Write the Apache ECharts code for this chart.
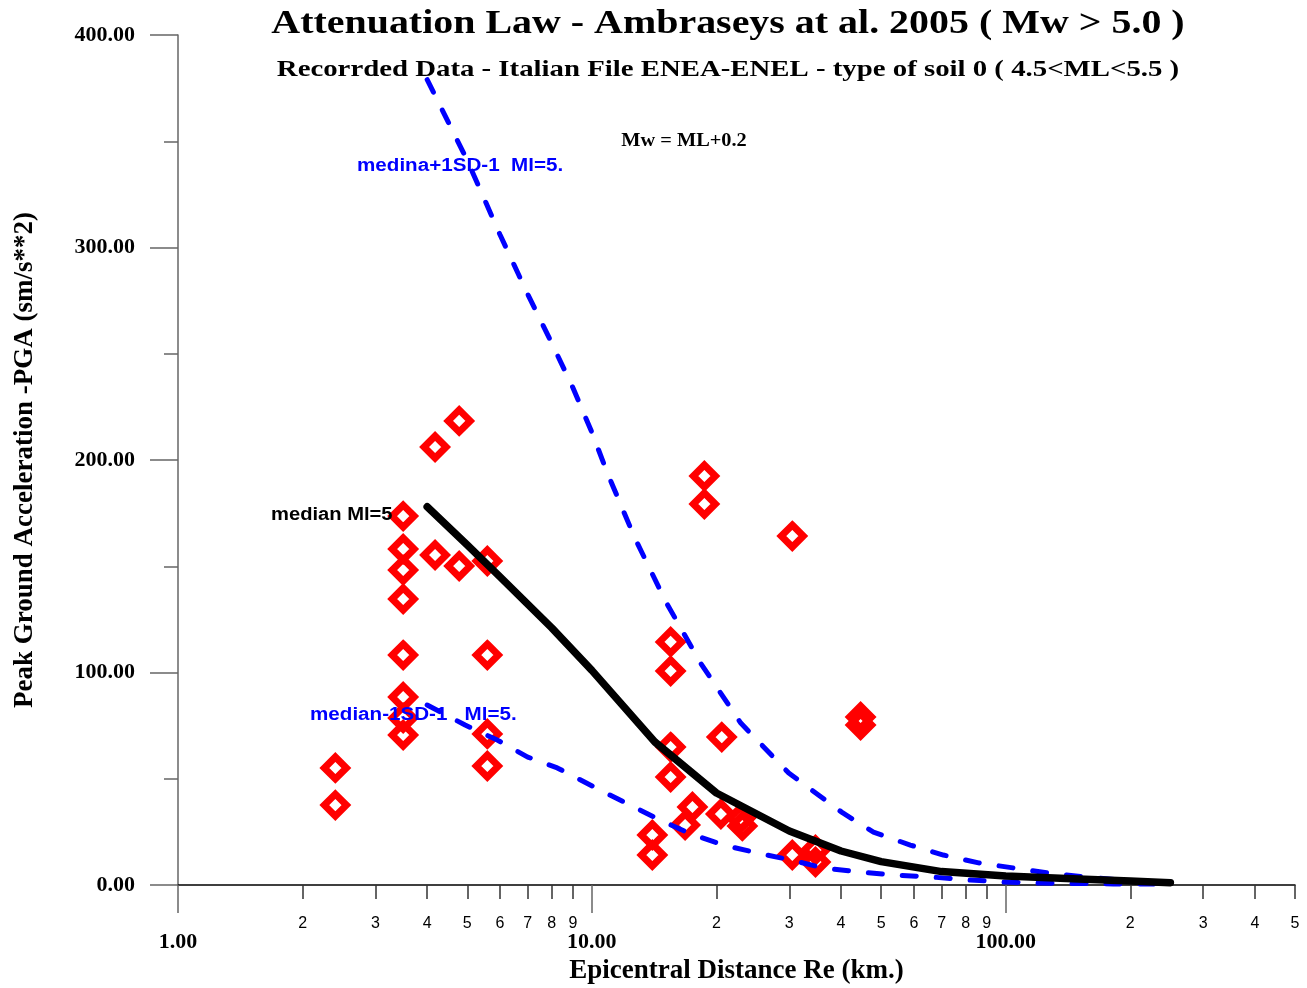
<!DOCTYPE html>
<html>
<head>
<meta charset="utf-8">
<script src="https://cdn.jsdelivr.net/npm/echarts@6.0.0/dist/echarts.min.js"></script>
<style>
html,body{margin:0;padding:0;background:#fff;}
#chart{width:1307px;height:988px;}
</style>
</head>
<body>
<div id="chart"></div>
<script>
// ---- data ----
const recDist = [2.40, 2.40, 3.50, 3.50, 3.50, 3.50, 3.50, 3.50, 3.50, 3.50,
  4.18, 4.18, 4.78, 4.78, 5.59, 5.59, 5.59, 5.59,
  14.0, 14.0, 15.5, 15.5, 15.5, 15.5, 16.8, 17.5, 18.7, 18.7,
  20.5, 20.6, 23.1, 22.9, 30.5, 30.5, 34.7, 34.7, 44.6, 44.6];
const recPga = [55.1, 37.6, 173.6, 158.1, 148.2, 134.6, 108.2, 88.5, 78.6, 70.6,
  206.1, 155.3, 218.4, 150.1, 152.5, 108.2, 71.1, 56.0,
  23.5, 14.1, 114.4, 100.7, 64.9, 50.8, 28.2, 36.7, 192.5, 179.3,
  33.4, 69.6, 27.8, 31.5, 164.2, 14.1, 16.5, 10.8, 79.1, 75.3];

const medDist = [4, 5, 6, 8, 10, 14.2, 20, 30, 40, 50, 70, 100, 150, 200, 250];
const medPga  = [178, 160, 145, 121, 101, 67.3, 43.3, 25.4, 16, 11, 6.3, 4.2, 2.8, 1.9, 1.1];

const upDist = [4, 5, 6, 7, 8, 9, 10, 10.9, 12.7, 15.1, 18.3, 22.9, 29.9, 40.4, 47.9, 58.8, 70.7, 86, 104.5, 127, 154, 189, 250];
const upPga  = [379, 341, 306, 278, 255, 234, 213, 193.9, 163.3, 133.2, 104.5, 76.2, 52.7, 33.9, 24.9, 18.8, 14.1, 10.4, 8.0, 5.6, 3.8, 2.4, 1.4];

const loDist = [4, 4.94, 5.91, 7.0, 8.25, 10.46, 14.3, 17.1, 20.8, 25.1, 30.2, 36.3, 44.6, 53.4, 65.8, 81, 98.8, 121.6, 149, 182, 250];
const loPga  = [84.7, 75.3, 68.2, 60.2, 55.1, 44.7, 31.5, 24.5, 18.8, 15.1, 11.8, 8.0, 6.1, 4.7, 3.8, 2.4, 1.4, 0.9, 0.7, 0.5, 0.4];

const xMajorTicks = [1, 10, 100];
const xMinorTicks = [2, 3, 4, 5, 6, 7, 8, 9, 20, 30, 40, 50, 60, 70, 80, 90, 200, 300, 400, 500];
const xMin = 1, xMax = 500;
const yMin = 0, yMax = 400, yInterval = 100;

// ---- build ----
const zip = (a, b) => a.map((v, i) => [v, b[i]]);
const lg = v => Math.log10(v);
const serif = '"Liberation Serif", "Times New Roman", serif';
const sans = '"Liberation Sans", Arial, sans-serif';

const chart = echarts.init(document.getElementById('chart'), null, {renderer: 'canvas'});

const option = {
  animation: false,
  backgroundColor: '#ffffff',
  grid: {left: 178, right: 12, top: 35, bottom: 103, containLabel: false, outerBoundsMode: 'none'},
  xAxis: [
    {
      type: 'log', logBase: 10, min: xMin, max: xMax, position: 'bottom',
      axisLine: {show: true, onZero: false, lineStyle: {color: '#000', width: 1.5}},
      axisTick: {show: false}, axisLabel: {show: false}, splitLine: {show: false},
      name: 'Epicentral Distance Re (km.)', nameLocation: 'middle', nameGap: 73,
      nameTextStyle: {fontFamily: serif, fontWeight: 'bold', fontSize: 27, color: '#000'}
    },
    {
      type: 'value', min: lg(xMin), max: lg(xMax), position: 'bottom',
      axisLine: {show: false}, splitLine: {show: false},
      axisTick: {show: true, inside: false, length: 28, customValues: xMajorTicks.map(lg),
        lineStyle: {color: '#666', width: 1.5}},
      axisLabel: {show: true, margin: 46, customValues: xMajorTicks.map(lg),
        fontFamily: serif, fontWeight: 'bold', fontSize: 22, color: '#000',
        formatter: v => Math.pow(10, Math.round(v)).toFixed(2)}
    },
    {
      type: 'value', min: lg(xMin), max: lg(xMax), position: 'bottom',
      axisLine: {show: false}, splitLine: {show: false},
      axisTick: {show: true, inside: false, length: 14, customValues: xMinorTicks.map(lg),
        lineStyle: {color: '#333', width: 1.5}},
      axisLabel: {show: true, margin: 31, customValues: xMinorTicks.map(lg),
        fontFamily: sans, fontSize: 16, color: '#000',
        formatter: v => {
          const r = Math.pow(10, v);
          return String(Math.round(r / Math.pow(10, Math.floor(v + 1e-9))));
        }}
    }
  ],
  yAxis: {
    type: 'value', min: yMin, max: yMax, interval: yInterval,
    axisLine: {show: true, lineStyle: {color: '#666', width: 1.5}},
    axisTick: {show: true, inside: false, length: 28, lineStyle: {color: '#666', width: 1.5}},
    minorTick: {show: true, splitNumber: 2, length: 14, lineStyle: {color: '#666', width: 1.5}},
    splitLine: {show: false},
    axisLabel: {margin: 43, fontFamily: serif, fontWeight: 'bold', fontSize: 22, color: '#000',
      formatter: v => v.toFixed(2)},
    name: 'Peak Ground Acceleration -PGA (sm/s**2)', nameLocation: 'middle', nameGap: 139, nameRotate: 90,
    nameTextStyle: {fontFamily: serif, fontWeight: 'bold', fontSize: 27, color: '#000'}
  },
  series: [
    {
      type: 'scatter', name: 'recorded', data: zip(recDist, recPga), z: 1,
      symbol: 'diamond', symbolSize: 22,
      itemStyle: {color: 'rgba(0,0,0,0)', opacity: 1, borderColor: '#ff0000', borderWidth: 7, borderJoin: 'miter'}
    },
    {
      type: 'line', name: 'upper', data: zip(upDist, upPga), z: 3, showSymbol: false, symbol: 'none',
      lineStyle: {color: '#0000ff', width: 5, type: [14, 20], cap: 'round'}
    },
    {
      type: 'line', name: 'lower', data: zip(loDist, loPga), z: 3, showSymbol: false, symbol: 'none',
      lineStyle: {color: '#0000ff', width: 5, type: [14, 20], cap: 'round'}
    },
    {
      type: 'line', name: 'median', data: zip(medDist, medPga), z: 4, showSymbol: false, symbol: 'none',
      lineStyle: {color: '#000', width: 7.5, type: 'solid', cap: 'round', join: 'round'}
    }
  ],
  graphic: [
    {type: 'text', x: 728, y: 24, z: 10, scaleX: 1.21,
      style: {text: 'Attenuation Law - Ambraseys at al. 2005 ( Mw > 5.0 )', font: 'bold 33px ' + serif,
        fill: '#000', align: 'center', verticalAlign: 'middle'}},
    {type: 'text', x: 728, y: 70, z: 10, scaleX: 1.2,
      style: {text: 'Recorrded Data - Italian File ENEA-ENEL - type of soil 0 ( 4.5<ML<5.5 )', font: 'bold 24px ' + serif,
        fill: '#000', align: 'center', verticalAlign: 'middle'}},
    {type: 'text', x: 684, y: 141, z: 10, scaleX: 1.13,
      style: {text: 'Mw = ML+0.2', font: 'bold 18px ' + serif, fill: '#000', align: 'center', verticalAlign: 'middle'}},
    {type: 'text', x: 357, y: 166, z: 10, scaleX: 1.145,
      style: {text: 'medina+1SD-1  Ml=5.', font: 'bold 18px ' + sans, fill: '#0000ff', align: 'left', verticalAlign: 'middle'}},
    {type: 'text', x: 271, y: 515, z: 10, scaleX: 1.12,
      style: {text: 'median Ml=5', font: 'bold 18px ' + sans, fill: '#000', align: 'left', verticalAlign: 'middle'}},
    {type: 'text', x: 310, y: 715, z: 10, scaleX: 1.145,
      style: {text: 'median-1SD-1   Ml=5.', font: 'bold 18px ' + sans, fill: '#0000ff', align: 'left', verticalAlign: 'middle'}}
  ]
};
chart.setOption(option);
</script>
</body>
</html>
